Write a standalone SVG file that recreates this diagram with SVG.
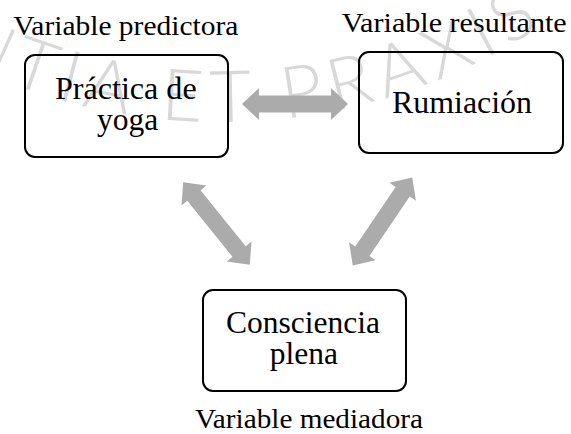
<svg xmlns="http://www.w3.org/2000/svg" width="571" height="434" viewBox="0 0 571 434">
  <style>
    .box { fill: none; stroke: #000; stroke-width: 2; }
    .node-text { font-size: 31.5px; fill: #000; text-anchor: middle; }
    .label { font-size: 27.5px; fill: #000; text-anchor: middle; }
    .arrow { fill: #ababab; }
    .seal { font-weight: 300; font-size: 72px; letter-spacing: 8px; fill: #d8d8d8; }
  </style>
  <defs>
    <!-- double-headed block arrow, centred on the origin along the x axis -->
    <path id="dbl-arrow" d="M -53 0 L -36 -16 L -36 -8.5 L 36 -8.5 L 36 -16 L 53 0 L 36 16 L 36 8.5 L -36 8.5 L -36 16 Z"/>
    <path id="seal-arc" d="M -250 -115.4 A 584 584 0 0 0 631 -47"/>
  </defs>

  <rect width="571" height="434" fill="#fff"/>

  <!-- background seal lettering -->
  <text class="seal" font-family="Lato, Roboto, sans-serif"><textPath href="#seal-arc" startOffset="87.5">SCIENTIA ET PRAXIS</textPath></text>

  <g id="connectors" class="arrow">
    <use href="#dbl-arrow" transform="translate(295 104)"/>
    <use href="#dbl-arrow" transform="translate(216.5 223.5) rotate(51.1)"/>
    <use href="#dbl-arrow" transform="translate(382.5 221.5) rotate(-55.9)"/>
  </g>

  <g font-family="'Liberation Serif', 'Times New Roman', 'DejaVu Serif', serif">
    <g id="node-practica">
      <rect class="box" x="25" y="55" width="203" height="102" rx="10"/>
      <text class="node-text" x="125.8" y="99" textLength="141.7" lengthAdjust="spacingAndGlyphs">Práctica de</text>
      <text class="node-text" x="127.5" y="130">yoga</text>
      <text class="label" x="125.8" y="35" textLength="225" lengthAdjust="spacingAndGlyphs">Variable predictora</text>
    </g>

    <g id="node-rumiacion">
      <rect class="box" x="359" y="52" width="204" height="101" rx="10"/>
      <text class="node-text" x="462" y="113" textLength="140" lengthAdjust="spacingAndGlyphs">Rumiación</text>
      <text class="label" x="454.2" y="31.7" textLength="225" lengthAdjust="spacingAndGlyphs">Variable resultante</text>
    </g>

    <g id="node-consciencia">
      <rect class="box" x="203" y="290" width="203" height="101" rx="10"/>
      <text class="node-text" x="303" y="333" textLength="154" lengthAdjust="spacingAndGlyphs">Consciencia</text>
      <text class="node-text" x="303.8" y="364">plena</text>
      <text class="label" x="309" y="428.3" textLength="228" lengthAdjust="spacingAndGlyphs">Variable mediadora</text>
    </g>
  </g>
</svg>
